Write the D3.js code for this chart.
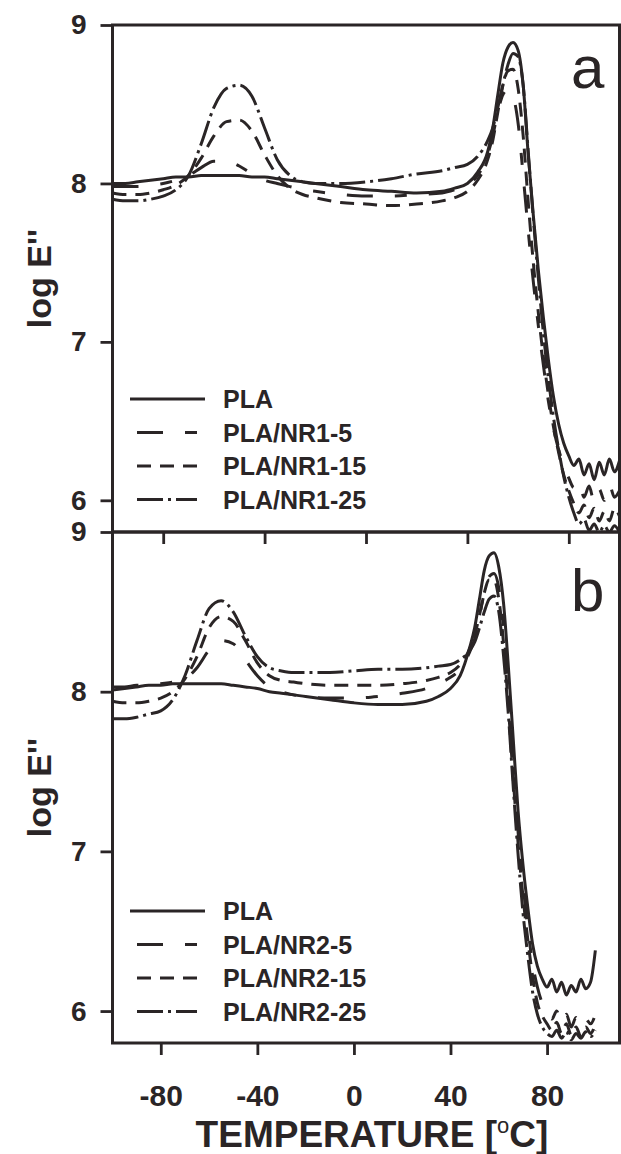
<!DOCTYPE html>
<html>
<head>
<meta charset="utf-8">
<script src="https://cdn.jsdelivr.net/npm/d3@7.9.0/dist/d3.min.js"></script>
<style>
  body { margin: 0; background: #fff; }
  svg { display: block; font-family: "Liberation Sans", Arial, sans-serif; }
</style>
</head>
<body>
<svg id="chart" width="621" height="1154"></svg>
<script>
// temperature grid (°C) shared by every curve
const temps = [-100,-95,-90,-85,-80,-75,-70,-65,-60,-55,-50,-45,-40,-35,-30,-25,
  -20,-10,0,10,20,30,
  35,40,44,48,
  50,52,54,56,58,60,62,64,66,68,70,72,74,76,78,80,
  82,84,86,88,90,92,94,96,98,100];

// panel a : log E''
const a_PLA = [8.00,8.00,8.01,8.02,8.03,8.04,8.04,8.05,8.05,8.05,8.05,8.04,8.04,8.03,8.02,8.01,
  8.00,7.98,7.96,7.95,7.94,7.95,
  7.97,8.00,8.07,8.20,
  8.35,8.56,8.76,8.86,8.89,8.84,8.62,8.18,7.80,7.45,7.15,6.88,6.65,6.48,6.36,6.28,
  6.22,6.26,6.16,6.23,6.13,6.24,6.16,6.26,6.18,6.25];
const a_NR1_5 = [7.98,7.98,7.98,7.99,8.00,8.02,8.05,8.10,8.14,8.14,8.11,8.06,8.02,8.00,7.98,7.96,
  7.95,7.93,7.92,7.92,7.93,7.94,
  7.96,7.99,8.05,8.18,
  8.30,8.45,8.56,8.59,8.55,8.38,8.05,7.70,7.38,7.10,6.85,6.62,6.45,6.32,6.22,6.14,
  6.08,6.12,6.02,6.09,5.99,6.07,6.00,6.10,6.02,6.06];
const a_NR1_15 = [7.94,7.93,7.93,7.94,7.96,7.99,8.05,8.16,8.30,8.39,8.40,8.33,8.18,8.05,7.97,7.93,
  7.91,7.88,7.87,7.86,7.87,7.89,
  7.91,7.95,8.02,8.15,
  8.27,8.45,8.62,8.71,8.72,8.60,8.30,7.88,7.50,7.18,6.90,6.66,6.46,6.30,6.16,6.06,
  5.98,5.92,5.97,5.89,5.95,5.87,5.93,5.87,5.95,5.90];
const a_NR1_25 = [7.90,7.89,7.89,7.90,7.92,7.96,8.05,8.25,8.48,8.60,8.62,8.55,8.35,8.15,8.05,8.01,
  8.00,8.00,8.01,8.03,8.06,8.08,
  8.10,8.12,8.17,8.27,
  8.35,8.48,8.62,8.75,8.82,8.80,8.62,8.20,7.78,7.40,7.05,6.76,6.52,6.32,6.15,6.02,
  5.92,5.85,5.88,5.81,5.85,5.80,5.84,5.80,5.84,5.80];

// panel b : log E''
const b_PLA = [8.01,8.02,8.03,8.04,8.04,8.05,8.05,8.05,8.05,8.05,8.04,8.03,8.02,8.00,7.99,7.98,
  7.97,7.95,7.93,7.92,7.92,7.94,
  7.97,8.02,8.10,8.28,
  8.40,8.58,8.76,8.85,8.87,8.78,8.55,8.15,7.70,7.25,6.92,6.65,6.42,6.28,6.20,6.15,
  6.20,6.12,6.18,6.10,6.16,6.12,6.20,6.14,6.18,6.38];
const b_NR2_5 = [8.03,8.03,8.04,8.04,8.05,8.06,8.08,8.15,8.26,8.32,8.30,8.20,8.10,8.03,8.00,7.98,
  7.97,7.96,7.96,7.97,7.99,8.02,
  8.05,8.09,8.14,8.25,
  8.33,8.47,8.62,8.72,8.74,8.65,8.40,8.00,7.55,7.12,6.80,6.52,6.30,6.15,6.05,6.00,
  5.95,6.00,5.92,5.98,5.90,5.96,5.90,5.95,5.92,5.98];
const b_NR2_15 = [7.94,7.93,7.93,7.94,7.96,8.00,8.08,8.22,8.40,8.47,8.44,8.32,8.18,8.10,8.07,8.06,
  8.05,8.04,8.04,8.04,8.05,8.07,
  8.09,8.12,8.17,8.27,
  8.35,8.48,8.62,8.70,8.70,8.58,8.30,7.90,7.45,7.05,6.72,6.45,6.22,6.05,5.97,5.92,
  5.88,5.93,5.86,5.92,5.85,5.90,5.84,5.90,5.86,5.92];
const b_NR2_25 = [7.83,7.83,7.84,7.86,7.88,7.95,8.10,8.32,8.52,8.57,8.50,8.35,8.22,8.15,8.13,8.12,
  8.12,8.12,8.13,8.14,8.14,8.15,
  8.16,8.17,8.20,8.26,
  8.31,8.40,8.50,8.58,8.60,8.50,8.22,7.85,7.40,6.98,6.62,6.35,6.12,5.98,5.90,5.86,
  5.84,5.88,5.83,5.87,5.82,5.86,5.83,5.87,5.84,5.88];

const legendA = ["PLA", "PLA/NR1-5", "PLA/NR1-15", "PLA/NR1-25"];
const legendB = ["PLA", "PLA/NR2-5", "PLA/NR2-15", "PLA/NR2-25"];
const dashes = [null, "26,22,12,22", "14,9", "26,5,3,5"];
const xTicks = [-80, -40, 0, 40, 80];
const yTicks = [6, 7, 8, 9];

const ink = "#2a2526";
const svg = d3.select("#chart");

const panels = [
  { id: "a", series: [a_PLA, a_NR1_5, a_NR1_15, a_NR1_25], names: legendA,
    xDomain: [-100, 100], left: 112.5, right: 619.5, top: 25, bottom: 532,
    legendY: 399, letterY: 88, showXLabels: false },
  { id: "b", series: [b_PLA, b_NR2_5, b_NR2_15, b_NR2_25], names: legendB,
    xDomain: [-100, 110], left: 112.5, right: 619.5, top: 532, bottom: 1043,
    legendY: 911, letterY: 611, showXLabels: true }
];

panels.forEach(p => drawPanel(p));

function drawPanel(p) {
  const x = d3.scaleLinear().domain(p.xDomain).range([p.left, p.right]);
  const y = d3.scaleLinear().domain([5.8, 9]).range([p.bottom, p.top]);

  svg.append("clipPath").attr("id", "clip-" + p.id)
    .append("rect")
    .attr("x", p.left).attr("y", p.top)
    .attr("width", p.right - p.left).attr("height", p.bottom - p.top);

  const line = d3.line()
    .x((d, i) => x(temps[i]))
    .y(d => y(d))
    .curve(d3.curveMonotoneX);

  const g = svg.append("g").attr("clip-path", `url(#clip-${p.id})`);
  p.series.forEach((vals, idx) => {
    g.append("path")
      .attr("d", line(vals))
      .attr("fill", "none")
      .attr("stroke", ink)
      .attr("stroke-width", 3)
      .attr("stroke-linejoin", "round")
      .attr("stroke-dasharray", dashes[idx]);
  });

  // y axis
  const yAxis = svg.append("g")
    .attr("transform", `translate(${p.left},0)`)
    .call(d3.axisLeft(y).tickValues(yTicks).tickSize(12).tickPadding(14).tickFormat(d => String(d)));
  yAxis.select(".domain").remove();
  yAxis.selectAll("line").attr("stroke", ink).attr("stroke-width", 2.8);
  yAxis.selectAll("text")
    .attr("fill", ink)
    .style("font-size", "28px")
    .style("font-weight", "bold");

  // x axis ticks (labels only on the lower panel)
  const xAxis = svg.append("g")
    .attr("transform", `translate(0,${p.bottom})`)
    .call(d3.axisBottom(x).tickValues(xTicks).tickSize(12).tickPadding(30)
      .tickFormat(p.showXLabels ? (d => String(d)) : ""));
  xAxis.select(".domain").remove();
  xAxis.selectAll("line").attr("stroke", ink).attr("stroke-width", 2.8);
  xAxis.selectAll("text")
    .attr("fill", ink)
    .style("font-size", "30px")
    .style("font-weight", "bold");

  // frame
  svg.append("rect")
    .attr("x", p.left).attr("y", p.top)
    .attr("width", p.right - p.left).attr("height", p.bottom - p.top)
    .attr("fill", "none")
    .attr("stroke", ink)
    .attr("stroke-width", 3);

  // y label
  svg.append("text")
    .attr("transform", `translate(51,${(p.top + p.bottom) / 2}) rotate(-90)`)
    .attr("text-anchor", "middle")
    .attr("fill", ink)
    .style("font-size", "34px")
    .style("font-weight", "bold")
    .text("log E''");

  // panel letter
  svg.append("text")
    .attr("x", 571).attr("y", p.letterY)
    .attr("fill", ink)
    .style("font-size", "60px")
    .text(p.id);

  // legend
  p.names.forEach((name, idx) => {
    const ly = p.legendY + idx * 33.5;
    const solid = dashes[idx] === null;
    svg.append("line")
      .attr("x1", solid ? 130 : 137).attr("x2", solid ? 205 : 197)
      .attr("y1", ly).attr("y2", ly)
      .attr("stroke", ink)
      .attr("stroke-width", 2.8)
      .attr("stroke-dasharray", dashes[idx]);
    svg.append("text")
      .attr("x", 223).attr("y", ly)
      .attr("dy", "0.36em")
      .attr("fill", ink)
      .style("font-size", "25px")
      .style("font-weight", "bold")
      .text(name);
  });
}

// x axis title
const title = svg.append("text")
  .attr("x", 372).attr("y", 1147)
  .attr("text-anchor", "middle")
  .attr("fill", ink)
  .style("font-size", "37px")
  .style("font-weight", "bold");
title.append("tspan").text("TEMPERATURE [");
title.append("tspan").attr("dy", -14).style("font-size", "22px").style("font-weight", "normal").text("o");
title.append("tspan").attr("dy", 14).text("C]");
</script>
</body>
</html>
